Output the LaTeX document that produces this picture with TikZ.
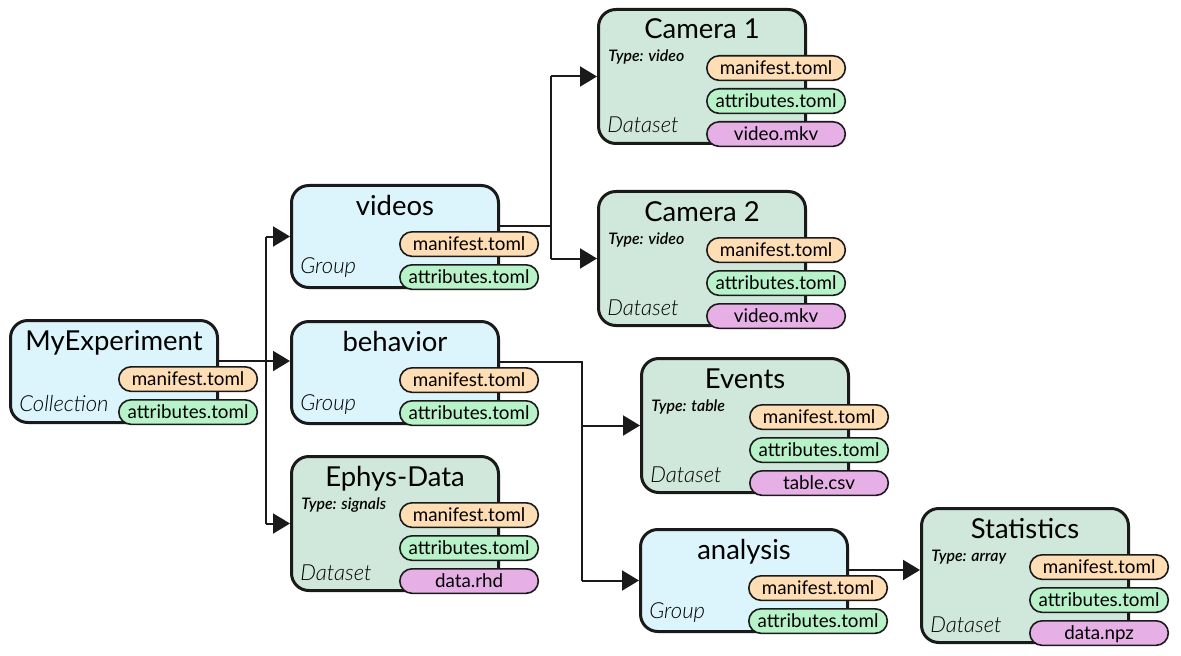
\documentclass[tikz,border=0pt]{standalone}
\usepackage{fontspec}
\setmainfont{Lato}
\newfontface\kindfont{Lato Light Italic}
\newfontface\typefont{Lato Semibold Italic}
\usetikzlibrary{arrows.meta}
\definecolor{grpfill}{HTML}{DCF4FB}
\definecolor{dsfill}{HTML}{D0E8DC}
\definecolor{manfill}{HTML}{FFDDB5}
\definecolor{attfill}{HTML}{B8F2C8}
\definecolor{datfill}{HTML}{E6B0E6}
\definecolor{edgecol}{HTML}{1A1A1A}
\tikzset{
  basebox/.style={draw=edgecol, line width=2.25pt, rounded corners=13pt, minimum width=155.25pt, inner sep=0pt, anchor=north west},
  grpbox/.style={basebox, fill=grpfill, minimum height=76.5pt},
  dsbox/.style={basebox, fill=dsfill, minimum height=100.5pt},
  titletext/.style={anchor=base, inner sep=0pt, font=\fontsize{20.6pt}{22pt}\selectfont},
  kindtext/.style={anchor=base west, inner sep=0pt, font=\fontsize{16.6pt}{18pt}\kindfont},
  typetext/.style={anchor=base west, inner sep=0pt, font=\fontsize{11.9pt}{13pt}\typefont},
  pill/.style={draw=edgecol, line width=1.2pt, rounded corners=9.2pt, minimum width=103.9pt, minimum height=18.4pt, inner sep=0pt, text height=11pt, text depth=1.25pt, anchor=north west, font=\fontsize{14.1pt}{15pt}\selectfont},
  wire/.style={draw=edgecol, line width=1.5pt},
  arrowwire/.style={wire, -{Triangle[length=12.75pt,width=15pt]}},
}
\newcommand\grpnode[6]{%
  \node[grpbox] (#1) at (#2,#3) {};
  \node[titletext] (#1-title) at (#2+105,#3+31) {#4};
  \node[kindtext] (#1-kind) at (#2+10,#3+#6) {#5};
  \node[pill, fill=manfill] (#1-man) at (#2+109,#3+47) {manifest.toml};
  \node[pill, fill=attfill] (#1-att) at (#2+109,#3+80) {attributes.toml};
  \coordinate (#1-out) at (#2+208.5,#3+42);
}
\newcommand\dsnode[6]{%
  \node[dsbox] (#1) at (#2,#3) {};
  \node[titletext] (#1-title) at (#2+105,#3+31) {#4};
  \node[typetext] (#1-type) at (#2+11,#3+54) {Type: #5};
  \node[kindtext] (#1-kind) at (#2+10,#3+125) {Dataset};
  \node[pill, fill=manfill] (#1-man) at (#2+109,#3+47) {manifest.toml};
  \node[pill, fill=attfill] (#1-att) at (#2+109,#3+80) {attributes.toml};
  \node[pill, fill=datfill] (#1-dat) at (#2+109,#3+113) {#6};
}
\begin{document}
\begin{tikzpicture}[x=0.75pt,y=-0.75pt]
\useasboundingbox (0,0) rectangle (1181,656);
\grpnode{myexp}{9}{319}{MyExperiment}{Collection}{92}
\grpnode{videos}{290}{184}{videos}{Group}{89}
\grpnode{behavior}{290}{320}{behavior}{Group}{90}
\dsnode{ephys}{290}{455}{Ephys-Data}{signals}{data.rhd}
\dsnode{cam1}{597}{8}{Camera 1}{video}{video.mkv}
\dsnode{cam2}{597}{190}{Camera 2}{video}{video.mkv}
\dsnode{events}{640}{357}{Events}{table}{table.csv}
\grpnode{analysis}{639}{528}{analysis}{Group}{90}
\dsnode{stats}{920}{507}{Statistics}{array}{data.npz}
% bus coordinates
\coordinate (bus1) at (266,0);
\coordinate (bus2) at (551,0);
\coordinate (bus3) at (582,0);
% MyExperiment children
\draw[arrowwire] (myexp-out) -- (myexp-out -| behavior.west);
\draw[wire] (bus1 |- videos.west) -- (bus1 |- ephys.west);
\draw[arrowwire] (bus1 |- videos.west) -- (videos.west);
\draw[arrowwire] (bus1 |- ephys.west) -- (ephys.west);
% videos children
\draw[wire] (videos-out) -- (bus2 |- videos-out);
\draw[wire] (bus2 |- cam1.west) -- (bus2 |- cam2.west);
\draw[arrowwire] (bus2 |- cam1.west) -- (cam1.west);
\draw[arrowwire] (bus2 |- cam2.west) -- (cam2.west);
% behavior children
\draw[wire] (behavior-out) -- (bus3 |- behavior-out) -- (bus3 |- analysis.west);
\draw[arrowwire] (bus3 |- events.west) -- (events.west);
\draw[arrowwire] (bus3 |- analysis.west) -- (analysis.west);
% analysis child
\draw[arrowwire] (analysis-out) -- (analysis-out -| stats.west);
\end{tikzpicture}
\end{document}
